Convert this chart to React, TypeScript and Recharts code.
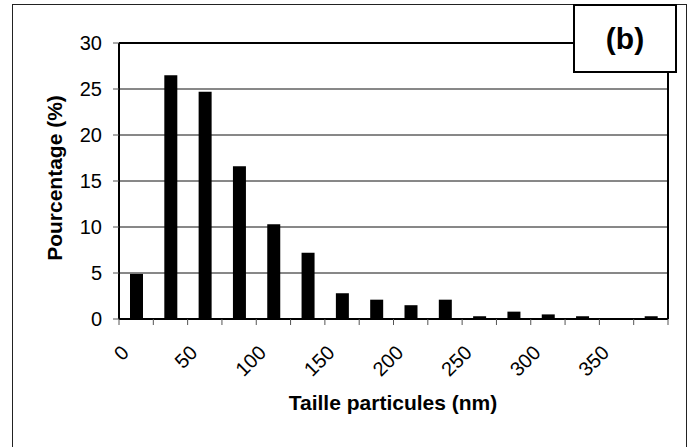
import { BarChart, Bar, XAxis, YAxis, CartesianGrid, ReferenceLine } from 'recharts';

// bins of 25 nm, value = share of particles (%)
const BIN_WIDTH = 25;
const binStart = [0, 25, 50, 75, 100, 125, 150, 175, 200, 225, 250, 275, 300, 325, 350, 375];
const percent = [4.9, 26.5, 24.7, 16.6, 10.3, 7.2, 2.8, 2.1, 1.5, 2.1, 0.3, 0.8, 0.5, 0.3, 0, 0.3];
const yTicks = [0, 5, 10, 15, 20, 25, 30];
const xTickMarks = [...binStart, 400];
const xLabels = [0, 50, 100, 150, 200, 250, 300, 350];

const data = binStart.map((s, i) => ({ x: s + BIN_WIDTH / 2, pct: percent[i] }));

const FONT = '"Liberation Sans", Arial, sans-serif';

function XTick({ x, y, payload }: any) {
  if (!xLabels.includes(payload.value)) return <g />;
  return (
    <g transform={`translate(${x},${y})`}>
      <text
        x={11}
        y={27}
        transform="rotate(-45 11 27)"
        textAnchor="end"
        fontSize={20}
        fill="#000"
        fontFamily={FONT}
      >
        {payload.value}
      </text>
    </g>
  );
}

export default function App() {
  return (
    <div
      style={{
        position: 'absolute',
        left: 0,
        top: 0,
        width: 690,
        height: 447,
        overflow: 'hidden',
        background: '#fff',
        fontFamily: FONT,
      }}
    >
      {/* outer chart frame */}
      <div
        style={{
          position: 'absolute',
          left: 12,
          top: 4,
          width: 673,
          height: 460,
          border: '1px solid #222',
        }}
      />
      <BarChart
        width={690}
        height={447}
        data={data}
        margin={{ top: 43, right: 22, bottom: 68, left: 59 }}
      >
        <CartesianGrid vertical={false} stroke="#111" strokeWidth={1} />
        <XAxis
          dataKey="x"
          type="number"
          domain={[0, 400]}
          ticks={xTickMarks}
          interval={0}
          height={60}
          tickSize={6}
          axisLine={{ stroke: '#000', strokeWidth: 2 }}
          tickLine={{ stroke: '#555' }}
          tick={<XTick />}
        />
        <YAxis
          type="number"
          domain={[0, 30]}
          ticks={yTicks}
          width={60}
          tickSize={6}
          tickMargin={11}
          axisLine={{ stroke: '#000', strokeWidth: 2 }}
          tickLine={{ stroke: '#555' }}
          tick={{ fontSize: 20, fill: '#000', fontFamily: FONT }}
        />
        <ReferenceLine y={30} stroke="#000" strokeWidth={2} />
        <ReferenceLine x={400} stroke="#000" strokeWidth={2} />
        <Bar dataKey="pct" fill="#000" barSize={13} isAnimationActive={false} />
      </BarChart>
      {/* axis titles */}
      <div
        style={{
          position: 'absolute',
          left: 55,
          top: 178,
          transform: 'translate(-50%, -50%) rotate(-90deg)',
          whiteSpace: 'nowrap',
          fontSize: 21,
          fontWeight: 'bold',
        }}
      >
        Pourcentage (%)
      </div>
      <div
        style={{
          position: 'absolute',
          left: 393,
          top: 403,
          transform: 'translate(-50%, -50%)',
          whiteSpace: 'nowrap',
          fontSize: 21,
          fontWeight: 'bold',
        }}
      >
        Taille particules (nm)
      </div>
      {/* panel tag */}
      <div
        style={{
          position: 'absolute',
          left: 573,
          top: 4,
          width: 100,
          height: 65,
          border: '2px solid #000',
          background: '#fff',
          display: 'flex',
          alignItems: 'center',
          justifyContent: 'center',
          fontSize: 30,
          fontWeight: 'bold',
        }}
      >
        (b)
      </div>
    </div>
  );
}
